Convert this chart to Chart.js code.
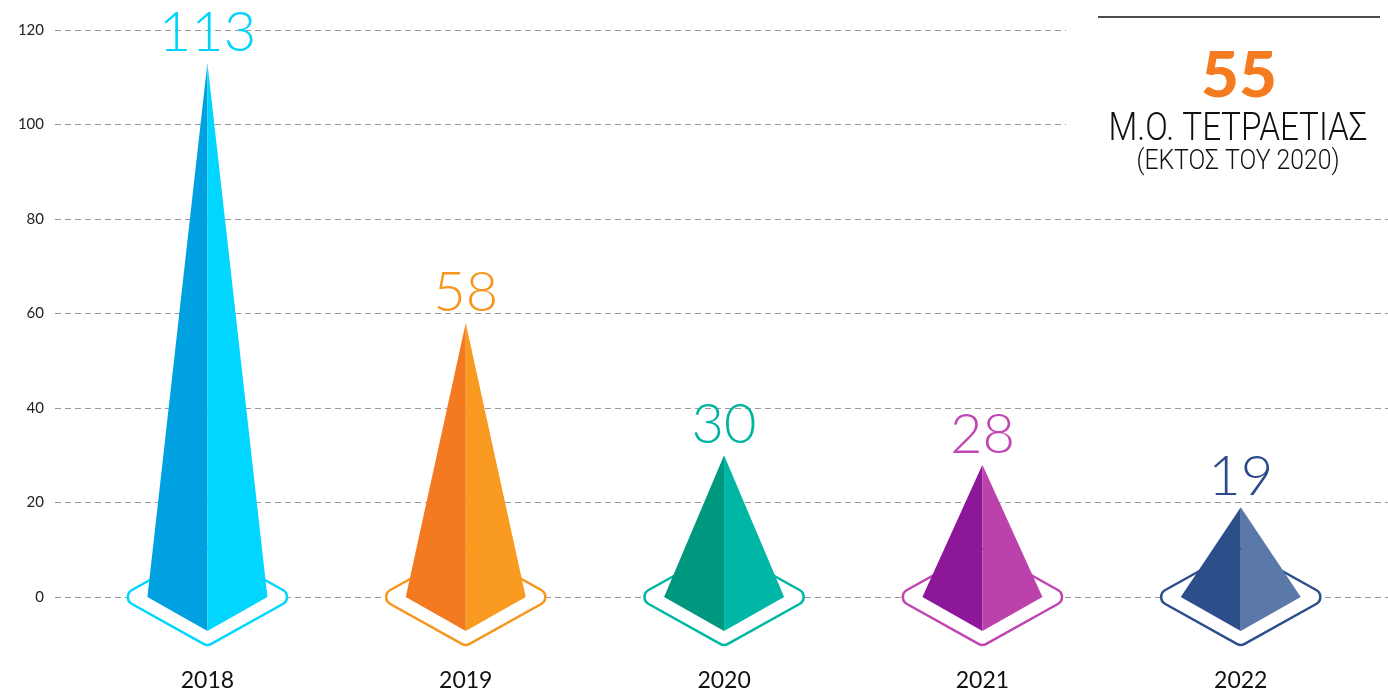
<!DOCTYPE html>
<html>
<head>
<meta charset="utf-8">
<script src="https://cdn.jsdelivr.net/npm/chart.js@4/dist/chart.umd.min.js"></script>
<style>
  html, body { margin: 0; padding: 0; background: #fff; }
  #wrap { width: 1388px; height: 690px; }
</style>
</head>
<body>
<div id="wrap"><canvas id="pyramidChart"></canvas></div>
<script>
const years = [2018, 2019, 2020, 2021, 2022];
const counts = [113, 58, 30, 28, 19];
const yTicks = [0, 20, 40, 60, 80, 100, 120];

const leftColors = ['#00a1e0', '#f47a21', '#00977f', '#8d1799', '#2c4f8c'];
const rightColors = ['#00d6ff', '#f89b20', '#00b7a5', '#bc42ab', '#5b79a8'];
const outlineColors = ['#00d6ff', '#f7961d', '#00b7a5', '#bf45b0', '#2c4f8c'];
const labelColors = ['#00d3fb', '#f7961d', '#00b5a0', '#c046b4', '#2c4a8a'];

const averageValue = 55;
const averageTitle = 'Μ.Ο. ΤΕΤΡΑΕΤΙΑΣ';
const averageNote = '(ΕΚΤΟΣ ΤΟΥ 2020)';

// text squeezed horizontally to a given width (condensed look)
function fitText(ctx, text, cx, baseline, width) {
  const w = ctx.measureText(text).width;
  ctx.save();
  ctx.translate(cx, baseline);
  ctx.scale(width / w, 1);
  ctx.textAlign = 'center';
  ctx.fillText(text, 0, 0);
  ctx.restore();
}

function roundedDiamond(ctx, cx, cy, hw, hh, r) {
  const pts = [[cx, cy - hh], [cx + hw, cy], [cx, cy + hh], [cx - hw, cy]];
  ctx.beginPath();
  ctx.moveTo((pts[3][0] + pts[0][0]) / 2, (pts[3][1] + pts[0][1]) / 2);
  for (let k = 0; k < 4; k++) {
    const p = pts[k], n = pts[(k + 1) % 4];
    ctx.arcTo(p[0], p[1], n[0], n[1], r);
  }
  ctx.closePath();
}

const pyramids = {
  id: 'pyramids',
  beforeDatasetsDraw(chart) {
    const ctx = chart.ctx;
    // average panel in the top right corner
    ctx.save();
    ctx.fillStyle = '#fff';
    ctx.fillRect(1066, 0, 322, 180);
    ctx.strokeStyle = '#111';
    ctx.lineWidth = 1.5;
    ctx.beginPath();
    ctx.moveTo(1098, 17);
    ctx.lineTo(1380, 17);
    ctx.stroke();

    ctx.fillStyle = '#f47b20';
    ctx.textAlign = 'center';
    ctx.font = '900 63px Lato, sans-serif';
    fitText(ctx, String(averageValue), 1239, 97, 76);

    ctx.fillStyle = '#111';
    ctx.font = '300 39px Roboto, sans-serif';
    fitText(ctx, averageTitle, 1238, 140, 259);
    ctx.font = '300 28px Roboto, sans-serif';
    fitText(ctx, averageNote, 1238, 169, 203);
    ctx.restore();
  },
  afterDatasetsDraw(chart) {
    const { ctx, scales: { x, y } } = chart;
    const base = y.getPixelForValue(0);
    ctx.save();
    years.forEach((yr, i) => {
      const cx = x.getPixelForValue(yr);
      const top = y.getPixelForValue(counts[i]);

      roundedDiamond(ctx, cx, base, 88, 49, 8);
      ctx.fillStyle = '#fff';
      ctx.fill();
      ctx.lineWidth = 2.5;
      ctx.strokeStyle = outlineColors[i];
      ctx.stroke();

      ctx.beginPath();
      ctx.moveTo(cx, top);
      ctx.lineTo(cx - 60, base);
      ctx.lineTo(cx, base + 34);
      ctx.closePath();
      ctx.fillStyle = leftColors[i];
      ctx.fill();

      ctx.beginPath();
      ctx.moveTo(cx, top);
      ctx.lineTo(cx, base + 34);
      ctx.lineTo(cx + 60, base);
      ctx.closePath();
      ctx.fillStyle = rightColors[i];
      ctx.fill();

      ctx.fillStyle = labelColors[i];
      ctx.textAlign = 'center';
      ctx.font = '300 56px Lato, sans-serif';
      ctx.fillText(String(counts[i]), cx, top - 12);
    });
    ctx.restore();
  }
};

new Chart(document.getElementById('pyramidChart'), {
  type: 'scatter',
  data: {
    datasets: [{
      data: years.map((yr, i) => ({ x: yr, y: counts[i] })),
      pointRadius: 0,
      showLine: false
    }]
  },
  options: {
    responsive: true,
    maintainAspectRatio: false,
    animation: false,
    layout: { padding: { top: 30, left: 0, right: 0, bottom: 0 } },
    plugins: { legend: { display: false }, tooltip: { enabled: false } },
    scales: {
      x: {
        type: 'linear',
        min: 2017.41,
        max: 2022.57,
        afterBuildTicks: s => { s.ticks = years.map(v => ({ value: v })); },
        afterFit: s => { s.height = 93; },
        grid: { display: false, drawTicks: false },
        border: { display: false },
        ticks: {
          padding: 72,
          maxRotation: 0,
          color: '#111',
          font: { family: 'Lato, sans-serif', size: 23, lineHeight: 1 },
          callback: v => String(v)
        }
      },
      y: {
        min: 0,
        max: 120,
        afterBuildTicks: s => { s.ticks = yTicks.map(v => ({ value: v })); },
        afterFit: s => { s.width = 55; },
        grid: { color: '#9a9a9a', lineWidth: 1, drawTicks: false },
        border: { display: false, dash: [6, 4] },
        ticks: {
          padding: 11,
          color: '#222',
          font: { family: 'Lato, sans-serif', size: 15 }
        }
      }
    }
  },
  plugins: [pyramids]
});
</script>
</body>
</html>
